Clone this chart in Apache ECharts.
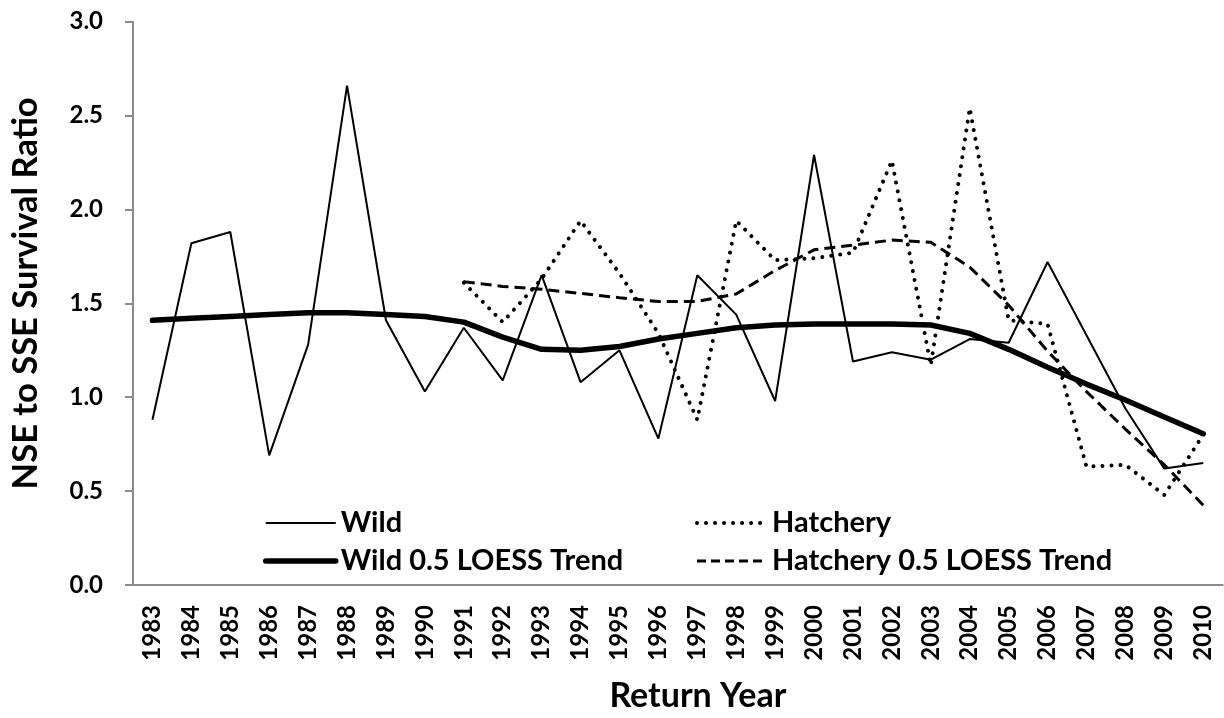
<!DOCTYPE html>
<html>
<head>
<meta charset="utf-8">
<title>NSE to SSE Survival Ratio</title>
<script src="https://cdn.jsdelivr.net/npm/echarts@6/dist/echarts.min.js"></script>
<style>
  html, body { margin: 0; padding: 0; background: #fff; }
  #chart { width: 1224px; height: 718px; }
</style>
</head>
<body>
<div id="chart"></div>
<script>
// return years on the x axis
var years = ['1983', '1984', '1985', '1986', '1987', '1988', '1989', '1990', '1991', '1992',
  '1993', '1994', '1995', '1996', '1997', '1998', '1999', '2000', '2001', '2002',
  '2003', '2004', '2005', '2006', '2007', '2008', '2009', '2010'];

// NSE to SSE survival ratio
var wild = [0.88, 1.82, 1.88, 0.69, 1.28, 2.66, 1.41, 1.03, 1.37, 1.09,
  1.65, 1.08, 1.25, 0.78, 1.65, 1.44, 0.98, 2.29, 1.19, 1.24,
  1.20, 1.31, 1.29, 1.72, 1.33, 0.94, 0.62, 0.65];

var wildTrend = [1.41, 1.42, 1.43, 1.44, 1.45, 1.45, 1.44, 1.43, 1.40, 1.32,
  1.255, 1.25, 1.27, 1.31, 1.34, 1.37, 1.385, 1.39, 1.39, 1.39,
  1.385, 1.34, 1.255, 1.16, 1.07, 0.985, 0.895, 0.805];

// hatchery series start in 1991
var hatchery = [null, null, null, null, null, null, null, null, 1.61, 1.40,
  1.63, 1.94, 1.66, 1.34, 0.88, 1.94, 1.73, 1.74, 1.77, 2.26,
  1.17, 2.54, 1.41, 1.39, 0.63, 0.64, 0.48, 0.80];

var hatcheryTrend = [null, null, null, null, null, null, null, null, 1.615, 1.59,
  1.575, 1.553, 1.53, 1.51, 1.51, 1.55, 1.675, 1.785, 1.81, 1.837,
  1.825, 1.693, 1.49, 1.245, 1.03, 0.83, 0.64, 0.425];

var yTicks = [0, 0.5, 1, 1.5, 2, 2.5, 3];

var FONT = 'Lato';
var AXIS_GREY = '#8a8a8a';

// line looks, shared by the series and their legend samples
var wildLine = { color: '#000', width: 2 };
var wildTrendLine = { color: '#000', width: 5.5, cap: 'round' };
var hatcheryLine = { color: '#000', width: 4, type: [0.01, 9], cap: 'round' };
var hatcheryTrendLine = { color: '#000', width: 3, type: [11, 6] };

var chart = echarts.init(document.getElementById('chart'));

var legendText = {
  fontFamily: FONT,
  fontWeight: 'bold',
  fontSize: 29,
  color: '#000',
  lineHeight: 30
};

function legendBox(left, items) {
  return {
    data: items,
    orient: 'vertical',
    left: left,
    top: 503,
    itemWidth: 70,
    itemHeight: 14,
    itemGap: 8,
    itemStyle: { opacity: 0 },
    textStyle: legendText
  };
}

chart.setOption({
  animation: false,
  grid: {
    left: 130,
    right: 1.3,
    top: 21.7,
    bottom: 126.3
  },
  legend: [
    legendBox(258, [
      { name: 'Wild', lineStyle: wildLine },
      { name: 'Wild 0.5 LOESS Trend', lineStyle: wildTrendLine }
    ]),
    legendBox(690, [
      { name: 'Hatchery', lineStyle: hatcheryLine },
      { name: 'Hatchery 0.5 LOESS Trend', lineStyle: { color: '#000', width: 3, type: [9, 5] } }
    ])
  ],
  xAxis: {
    type: 'category',
    data: years,
    boundaryGap: true,
    name: 'Return Year',
    nameLocation: 'middle',
    nameGap: 94,
    nameTextStyle: {
      fontFamily: FONT,
      fontWeight: 'bold',
      fontSize: 34,
      color: '#000',
      padding: [0, 0, 0, 40]
    },
    axisLine: { lineStyle: { color: AXIS_GREY, width: 2 } },
    axisTick: { alignWithLabel: false, length: 8, lineStyle: { color: AXIS_GREY, width: 2 } },
    axisLabel: {
      rotate: 90,
      margin: 20,
      interval: 0,
      fontFamily: FONT,
      fontWeight: 'bold',
      fontSize: 24,
      color: '#000'
    },
    splitLine: { show: false }
  },
  yAxis: {
    type: 'value',
    min: yTicks[0],
    max: yTicks[yTicks.length - 1],
    interval: 0.5,
    name: 'NSE to SSE Survival Ratio',
    nameLocation: 'middle',
    nameGap: 90,
    nameTextStyle: {
      fontFamily: FONT,
      fontWeight: 'bold',
      fontSize: 34.5,
      color: '#000',
      padding: [0, 0, 0, 20]
    },
    axisLine: { show: true, lineStyle: { color: AXIS_GREY, width: 2 } },
    axisTick: { show: true, length: 8, lineStyle: { color: AXIS_GREY, width: 2 } },
    axisLabel: {
      margin: 30,
      fontFamily: FONT,
      fontWeight: 'bold',
      fontSize: 24,
      color: '#000',
      formatter: function (v) { return v.toFixed(1); }
    },
    splitLine: { show: false }
  },
  series: [{
    name: 'Wild',
    type: 'line',
    data: wild,
    symbol: 'none',
    lineStyle: wildLine,
    itemStyle: { color: '#000' },
    z: 3
  }, {
    name: 'Hatchery',
    type: 'line',
    data: hatchery,
    symbol: 'none',
    lineStyle: hatcheryLine,
    itemStyle: { color: '#000' },
    z: 2
  }, {
    name: 'Wild 0.5 LOESS Trend',
    type: 'line',
    data: wildTrend,
    symbol: 'none',
    lineStyle: wildTrendLine,
    itemStyle: { color: '#000' },
    z: 4
  }, {
    name: 'Hatchery 0.5 LOESS Trend',
    type: 'line',
    data: hatcheryTrend,
    symbol: 'none',
    lineStyle: hatcheryTrendLine,
    itemStyle: { color: '#000' },
    z: 2
  }]
});
</script>
</body>
</html>
